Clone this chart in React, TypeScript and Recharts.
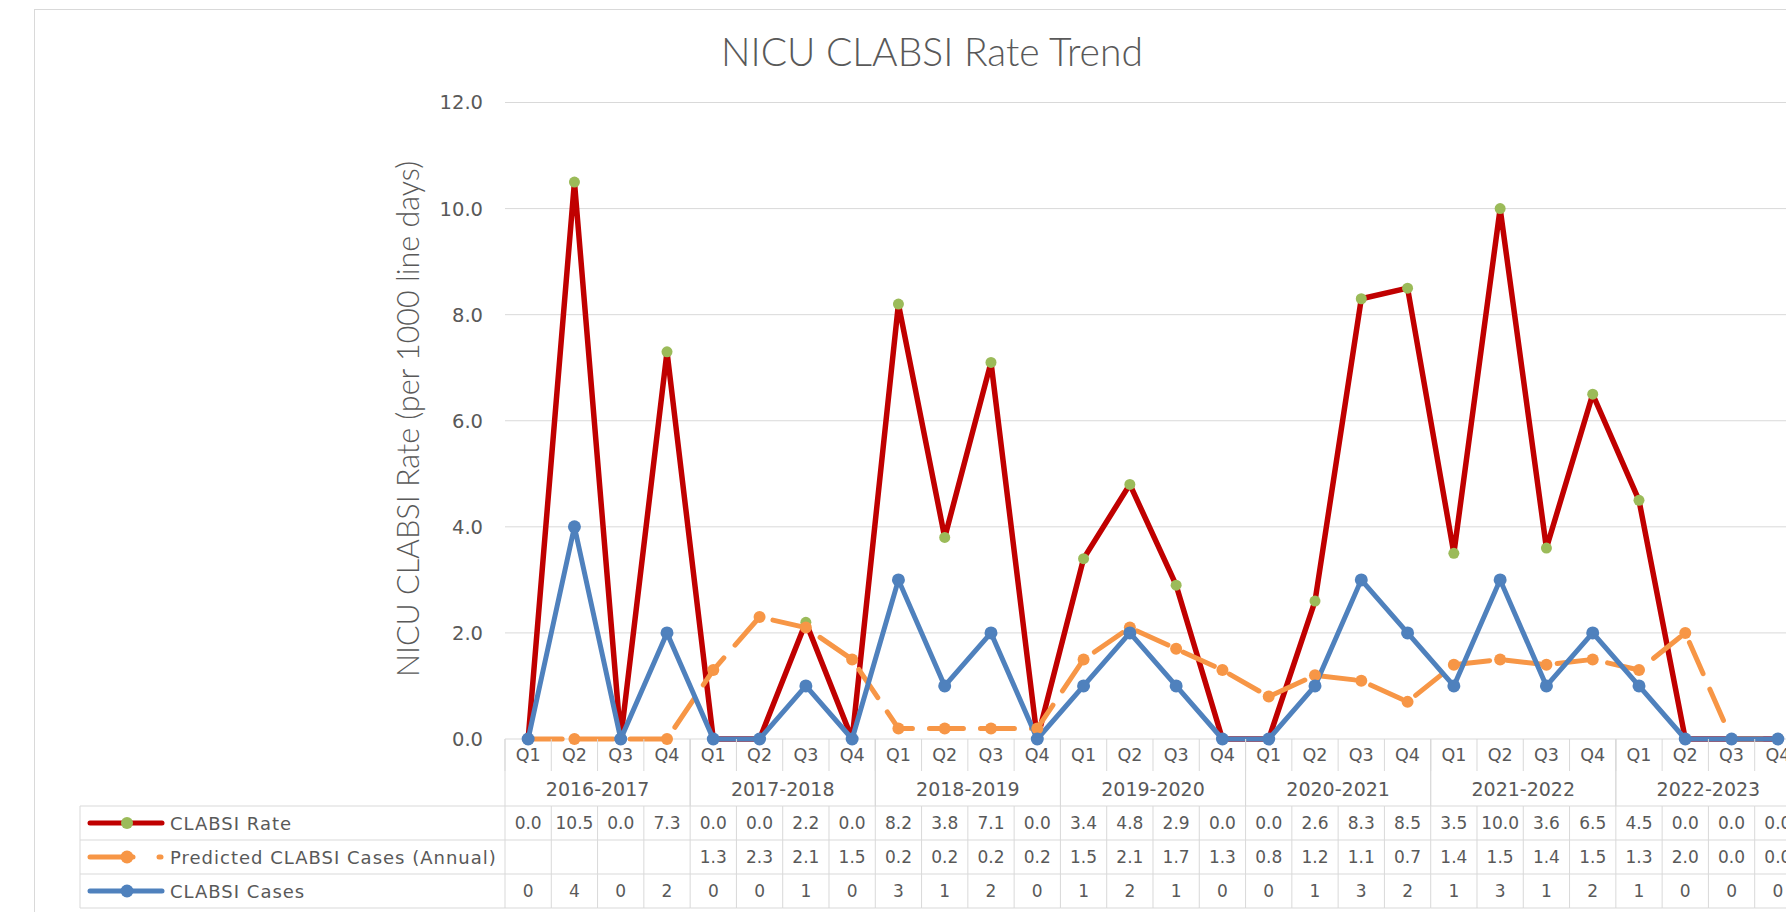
import React from "react";
import { ComposedChart, Line, XAxis, YAxis, CartesianGrid } from "recharts";

const years = ["2016-2017", "2017-2018", "2018-2019", "2019-2020", "2020-2021", "2021-2022", "2022-2023"];
const quarters = ["Q1", "Q2", "Q3", "Q4"];

const clabsiRate = [
  0.0, 10.5, 0.0, 7.3, 0.0, 0.0, 2.2, 0.0, 8.2, 3.8, 7.1, 0.0, 3.4, 4.8,
  2.9, 0.0, 0.0, 2.6, 8.3, 8.5, 3.5, 10.0, 3.6, 6.5, 4.5, 0.0, 0.0, 0.0,
];
const predictedCases: (number | null)[] = [
  null, null, null, null, 1.3, 2.3, 2.1, 1.5, 0.2, 0.2, 0.2, 0.2, 1.5, 2.1,
  1.7, 1.3, 0.8, 1.2, 1.1, 0.7, 1.4, 1.5, 1.4, 1.5, 1.3, 2.0, 0.0, 0.0,
];
const clabsiCases = [
  0, 4, 0, 2, 0, 0, 1, 0, 3, 1, 2, 0, 1, 2, 1, 0, 0, 1, 3, 2, 1, 3, 1, 2, 1, 0, 0, 0,
];
const yTicks = [0, 2, 4, 6, 8, 10, 12];

const seriesNames = ["CLABSI Rate", "Predicted CLABSI Cases (Annual)", "CLABSI Cases"];

// layout
const W = 1786;
const H = 912;
const PLOT_LEFT = 505;
const BAND = 46.3;
const N = clabsiRate.length;
const CHART_W = Math.round(PLOT_LEFT + BAND * N + 10);
const TOP = 102.5;
const Q_H = 32;
const YR_H = 35;
const ROW_H = 34;
const TABLE_H = H - (TOP + 636.5 + Q_H + YR_H);
const GRID = "#d9d9d9";
const TEXT = "#595959";
const RED = "#c00000";
const GREEN = "#9bbb59";
const ORANGE = "#f79646";
const BLUE = "#4f81bd";
const TABLE_FONT = "'DejaVu Sans', Verdana, sans-serif";
const TITLE_FONT = "Lato, 'Liberation Sans', sans-serif";

const data = years.flatMap((year, yi) =>
  quarters.map((q, qi) => {
    const i = yi * 4 + qi;
    return {
      q,
      year,
      rate: clabsiRate[i],
      // blank cells plot as zero, like the original
      predicted: predictedCases[i] ?? 0,
      cases: clabsiCases[i],
    };
  })
);

const fmt1 = (v: number) => v.toFixed(1);

const QuarterTick = (props: any) => {
  const { x, y, payload } = props;
  const i: number = props.index ?? payload.index;
  const half = BAND / 2;
  const rowsTop = y + Q_H + YR_H;
  const p = predictedCases[i];
  const vals = [fmt1(clabsiRate[i]), p == null ? "" : fmt1(p), String(clabsiCases[i])];
  return (
    <g>
      <text
        x={x}
        y={y + Q_H / 2}
        textAnchor="middle"
        dominantBaseline="central"
        fill={TEXT}
        fontSize={17.5}
        fontFamily={TABLE_FONT}
      >
        {payload.value}
      </text>
      <line x1={x - half} x2={x - half} y1={y} y2={y + Q_H} stroke={GRID} />
      <line x1={x - half} x2={x - half} y1={rowsTop} y2={rowsTop + 3 * ROW_H} stroke={GRID} />
      {i === N - 1 && (
        <line x1={x + half} x2={x + half} y1={y} y2={rowsTop + 3 * ROW_H} stroke={GRID} />
      )}
      {[0, 1, 2, 3].map((r) => (
        <line
          key={"h" + r}
          x1={x - half}
          x2={x + half}
          y1={rowsTop + r * ROW_H}
          y2={rowsTop + r * ROW_H}
          stroke={GRID}
        />
      ))}
      {vals.map((v, r) => (
        <text
          key={"v" + r}
          x={x}
          y={rowsTop + r * ROW_H + ROW_H / 2}
          textAnchor="middle"
          dominantBaseline="central"
          fill={TEXT}
          fontSize={17}
          fontFamily={TABLE_FONT}
        >
          {v}
        </text>
      ))}
    </g>
  );
};

const YearTick = (props: any) => {
  const { x, y, payload } = props;
  const half = (BAND * 4) / 2;
  return (
    <g>
      <text
        x={x}
        y={y + YR_H / 2}
        textAnchor="middle"
        dominantBaseline="central"
        fill={TEXT}
        fontSize={19}
        fontFamily={TABLE_FONT}
      >
        {payload.value}
      </text>
      <line x1={x - half} x2={x - half} y1={y - Q_H} y2={y + YR_H} stroke={GRID} />
      <line x1={x + half} x2={x + half} y1={y - Q_H} y2={y + YR_H} stroke={GRID} />
    </g>
  );
};

const LegendColumn = () => {
  const top = H - TABLE_H;
  const left = 80;
  const keys = [
    { color: RED, marker: GREEN, r: 6, dashed: false },
    { color: ORANGE, marker: ORANGE, r: 6.5, dashed: true },
    { color: BLUE, marker: BLUE, r: 6.5, dashed: false },
  ];
  return (
    <g>
      {[0, 1, 2, 3].map((r) => (
        <line
          key={"lh" + r}
          x1={left}
          x2={PLOT_LEFT}
          y1={top + r * ROW_H}
          y2={top + r * ROW_H}
          stroke={GRID}
        />
      ))}
      <line x1={left} x2={left} y1={top} y2={top + 3 * ROW_H} stroke={GRID} />
      {keys.map((k, r) => {
        const cy = top + r * ROW_H + ROW_H / 2;
        return (
          <g key={"k" + r}>
            {k.dashed ? (
              <>
                <line x1={90} x2={133} y1={cy} y2={cy} stroke={k.color} strokeWidth={5} strokeLinecap="round" />
                <line x1={159} x2={161} y1={cy} y2={cy} stroke={k.color} strokeWidth={5} strokeLinecap="round" />
              </>
            ) : (
              <line x1={90} x2={162} y1={cy} y2={cy} stroke={k.color} strokeWidth={5} strokeLinecap="round" />
            )}
            <circle cx={127} cy={cy} r={k.r} fill={k.marker} />
            <text
              x={170}
              y={cy}
              dominantBaseline="central"
              fill={TEXT}
              fontSize={18}
              letterSpacing={1}
              fontFamily={TABLE_FONT}
            >
              {seriesNames[r]}
            </text>
          </g>
        );
      })}
    </g>
  );
};

const App: React.FC = () => {
  return (
    <div
      style={{
        position: "absolute",
        left: 0,
        top: 0,
        width: W,
        height: H,
        overflow: "hidden",
        background: "#fff",
      }}
    >
      <div style={{ position: "absolute", left: 0, top: 0 }}>
        <ComposedChart
          width={CHART_W}
          height={H}
          data={data}
          margin={{ top: TOP, right: 10, bottom: TABLE_H, left: 0 }}
        >
          <CartesianGrid vertical={false} stroke={GRID} />
          <XAxis
            xAxisId="q"
            dataKey="q"
            padding={{ left: BAND / 2, right: BAND / 2 }}
            height={Q_H}
            axisLine={false}
            tickLine={false}
            tickSize={0}
            tickMargin={0}
            interval={0}
            tick={<QuarterTick />}
          />
          <XAxis
            xAxisId="yr"
            dataKey="year"
            allowDuplicatedCategory={false}
            padding={{ left: BAND * 2, right: BAND * 2 }}
            height={YR_H}
            axisLine={false}
            tickLine={false}
            tickSize={0}
            tickMargin={0}
            interval={0}
            tick={<YearTick />}
          />
          <YAxis
            width={PLOT_LEFT}
            domain={[0, 12]}
            ticks={yTicks}
            axisLine={false}
            tickLine={false}
            tickSize={0}
            tickMargin={22}
            tickFormatter={(v: number) => v.toFixed(1)}
            tick={{ fill: TEXT, fontSize: 19.5, fontFamily: TABLE_FONT }}
          />
          <Line
            xAxisId="q"
            dataKey="rate"
            stroke={RED}
            strokeWidth={5.5}
            strokeLinejoin="round"
            dot={{ r: 5.5, fill: GREEN, stroke: GREEN, strokeWidth: 0 }}
            activeDot={false}
            isAnimationActive={false}
          />
          <Line
            xAxisId="q"
            dataKey="predicted"
            stroke={ORANGE}
            strokeWidth={5}
            strokeDasharray="34 17"
            strokeLinecap="round"
            strokeLinejoin="round"
            dot={{ r: 6, fill: ORANGE, stroke: ORANGE, strokeWidth: 0, strokeDasharray: "0" }}
            activeDot={false}
            isAnimationActive={false}
          />
          <Line
            xAxisId="q"
            dataKey="cases"
            stroke={BLUE}
            strokeWidth={5}
            strokeLinejoin="round"
            dot={{ r: 6.5, fill: BLUE, stroke: BLUE, strokeWidth: 0 }}
            activeDot={false}
            isAnimationActive={false}
          />
        </ComposedChart>
      </div>
      <svg
        width={W}
        height={H}
        style={{ position: "absolute", left: 0, top: 0, pointerEvents: "none" }}
      >
        <rect x={34.5} y={9.5} width={2000} height={2000} fill="none" stroke={GRID} />
        <text
          x={932}
          y={51}
          textAnchor="middle"
          dominantBaseline="central"
          fill={TEXT}
          fontSize={39}
          fontWeight={300}
          fontFamily={TITLE_FONT}
        >
          NICU CLABSI Rate Trend
        </text>
        <text
          transform={`translate(407, 419) rotate(-90)`}
          textAnchor="middle"
          dominantBaseline="central"
          fill={TEXT}
          fontSize={30.5}
          fontWeight={300}
          fontFamily={TITLE_FONT}
        >
          NICU CLABSI Rate (per 1000 line days)
        </text>
        <LegendColumn />
      </svg>
    </div>
  );
};

export default App;
